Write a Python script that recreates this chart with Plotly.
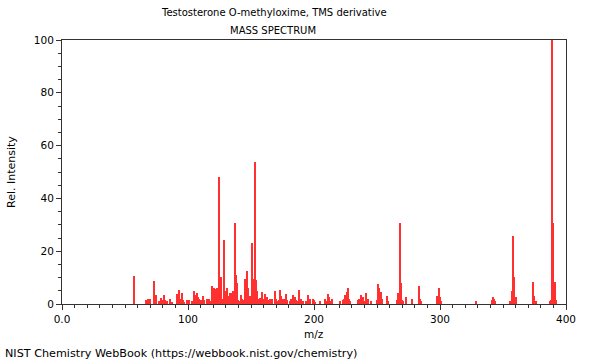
import plotly.graph_objects as go

mz = [57, 67, 68, 69, 70, 73, 74, 75, 77, 79, 80, 81, 82, 83, 86, 87,
      91, 92, 93, 94, 95, 96, 97, 99, 101, 103, 105, 106, 107, 108, 109, 110,
      112, 113, 115, 116, 117, 118, 119, 120, 121, 122, 123, 124, 125, 126,
      127, 128, 129, 130, 131, 132, 133, 134, 135, 136, 137, 138, 139, 140,
      141, 142, 143, 144, 145, 146, 147, 148, 149, 150, 151, 152, 153, 154,
      155, 156, 157, 158, 159, 160, 161, 162, 163, 164, 165, 166, 167, 169,
      170, 171, 172, 173, 174, 175, 176, 177, 178, 179, 181, 182, 183, 184,
      185, 186, 187, 188, 189, 190, 191, 194, 195, 196, 197, 199, 200, 201,
      205, 209, 210, 211, 212, 213, 214, 221, 223, 224, 225, 226, 227, 228,
      229, 235, 236, 237, 238, 239, 240, 241, 242, 243, 245, 250, 251, 252,
      253, 254, 258, 259, 266, 267, 268, 269, 270, 271, 273, 278, 283, 284,
      285, 298, 299, 300, 301, 329, 341, 342, 343, 344, 356, 357, 358, 359,
      360, 374, 375, 376, 387, 388, 389, 390, 391, 392]
intensity = [10.6, 1.5, 1.8, 1.5, 1.8, 8.7, 1.5, 3.3, 1.2, 2.1, 1.5, 3.4, 1.7, 1.0, 1.9, 0.8,
             3.7, 2.0, 5.2, 2.0, 4.3, 1.5, 0.8, 1.5, 1.7, 1.0, 4.9, 3.5, 4.0, 2.5, 2.0, 1.5,
             2.9, 1.5, 2.0, 1.5, 2.0, 1.0, 6.8, 3.0, 6.2, 5.5, 6.0, 1.5, 48.0, 10.2,
             1.5, 2.0, 24.1, 4.9, 6.1, 3.0, 4.0, 4.0, 3.0, 5.0, 30.6, 11.0, 8.0, 1.5,
             1.0, 3.5, 2.0, 1.5, 9.3, 4.5, 12.5, 6.0, 3.0, 2.0, 23.2, 9.3, 53.7, 9.0,
             4.8, 2.0, 2.3, 1.0, 4.4, 2.0, 3.8, 2.0, 2.5, 1.5, 2.0, 1.5, 2.0, 4.8,
             2.0, 1.0, 1.7, 5.3, 3.0, 2.0, 2.0, 1.0, 3.7, 1.5, 1.0, 2.0, 3.5, 2.5,
             2.5, 1.5, 1.0, 5.3, 2.0, 2.0, 1.0, 1.0, 3.5, 2.0, 2.0, 2.0, 1.5, 0.8,
             1.3, 2.0, 1.0, 3.9, 2.5, 1.0, 1.8, 1.2, 1.5, 2.0, 3.5, 4.7, 6.0, 2.0,
             1.0, 1.7, 2.0, 3.5, 1.7, 2.5, 1.0, 4.0, 2.0, 2.0, 1.0, 1.5, 7.7, 6.0,
             4.5, 2.0, 3.2, 1.0, 1.5, 4.0, 30.6, 8.1, 1.7, 1.0, 2.5, 2.0, 6.8, 2.0,
             1.0, 3.0, 5.9, 2.5, 1.0, 1.3, 1.6, 2.8, 2.0, 1.0, 1.0, 5.0, 25.8, 10.1,
             2.5, 8.5, 3.0, 1.0, 1.3, 1.6, 100.0, 30.6, 8.5, 1.5]

x_tickvals = [0, 100, 200, 300, 400]
x_ticktext = ["0.0", "100", "200", "300", "400"]
y_tickvals = [0, 20, 40, 60, 80, 100]

title_line1 = "Testosterone O-methyloxime, TMS derivative"
title_line2 = "MASS SPECTRUM"
x_label = "m/z"
y_label = "Rel. Intensity"
footer = "NIST Chemistry WebBook (https://webbook.nist.gov/chemistry)"

FONT = "DejaVu Sans"
AXC = "#333333"

fig = go.Figure()
fig.add_trace(go.Bar(x=mz, y=intensity, width=0.9,
                     marker=dict(color="#ff3030", line=dict(width=0))))

# plot area: x 62..566 px, y 40..304 px
L, R, T, B = 62, 34, 40, 56
PW, PH = 600 - L - R, 360 - T - B

def px(xp):
    return (xp - L) / PW

def py(yp):
    return (T + PH - yp) / PH

fig.update_layout(
    width=600, height=360,
    margin=dict(l=L, r=R, t=T, b=B, pad=0, autoexpand=False),
    plot_bgcolor="white", paper_bgcolor="white",
    showlegend=False, bargap=0,
    font=dict(family=FONT, size=10, color="black"),
    xaxis=dict(range=[0, 400], tickmode="array", tickvals=x_tickvals,
               ticktext=x_ticktext, ticks="outside", ticklen=5, tickcolor=AXC,
               showline=True, linecolor=AXC, linewidth=1, mirror=True,
               showgrid=False, zeroline=False,
               tickfont=dict(family=FONT, size=10.5, color="black"),
               minor=dict(dtick=10, ticks="outside", ticklen=3, tickcolor=AXC,
                          showgrid=False)),
    yaxis=dict(range=[0, 100], tickmode="array", tickvals=y_tickvals,
               ticks="outside", ticklen=5, tickcolor=AXC,
               showline=True, linecolor=AXC, linewidth=1, mirror=True,
               showgrid=False, zeroline=False,
               tickfont=dict(family=FONT, size=10.5, color="black"),
               minor=dict(dtick=5, ticks="outside", ticklen=3, tickcolor=AXC,
                          showgrid=False)),
)

ann = [
    dict(text=title_line1, x=px(273.5), y=py(13), size=10),
    dict(text=title_line2, x=px(273), y=py(30), size=10),
    dict(text=x_label, x=px(314), y=py(334), size=10.5),
    dict(text=y_label, x=px(11), y=py(172), textangle=-90, size=11),
    dict(text=footer, x=px(3), y=py(353), xanchor="left", size=11.2),
]
for a in ann:
    opts = {k: v for k, v in a.items() if k not in ("xanchor", "size")}
    fig.add_annotation(xref="paper", yref="paper", showarrow=False,
                       xanchor=a.get("xanchor", "center"), yanchor="middle",
                       font=dict(family=FONT, size=a["size"], color="black"),
                       **opts)

fig.write_html("out.html", config={"displayModeBar": False},
               post_script="document.body.style.margin='0';document.body.style.overflow='hidden';")
